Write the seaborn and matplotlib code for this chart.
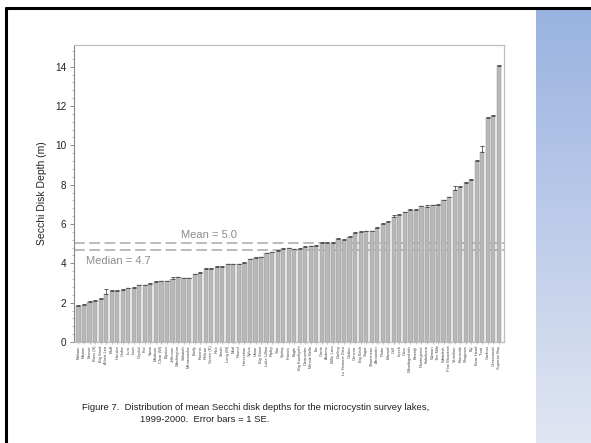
import numpy as np
import pandas as pd
import matplotlib
matplotlib.use("Agg")
import matplotlib.pyplot as plt
from matplotlib.lines import Line2D
from matplotlib.ticker import MultipleLocator, AutoMinorLocator
import seaborn as sns

lakes = [
    "Balsam", "Marion", "Beaver", "Bass (S)", "Big Sand", "Albert Lea", "Bluff", "Hanska",
    "Cedar", "Lura", "Loon", "Crystal", "Fox", "Swan", "Madison", "Clear (W)",
    "Elysian", "Jefferson", "Washington", "Sakatah", "Minnewaska", "Emily", "Koronis", "Pelican",
    "Green (K)", "Rice", "Sarah", "Long (M)", "Mud", "Round", "Horseshoe", "Sylvia",
    "Union", "Big Stone", "Lake Lillian", "Ripley", "Star", "Spring", "Francis", "Eagle",
    "Big Kandiyohi", "Clearwater", "Minnie Belle", "Ida", "Carrie", "Andrew", "Mille Lacs", "Darling",
    "Le Homme Dieu", "Osakis", "Geneva", "Big Birch", "Sugar", "Shamineau", "Alexander", "Platte",
    "Edward", "Gull", "Leech", "Cass", "Winnibigoshish", "Bemidji", "Plantagenet", "Kabekona",
    "Woman", "Ten Mile", "Whitefish", "Pine Mountain", "Vermilion", "Burntside", "Shagawa", "Ely",
    "Bear Head", "Trout", "Caribou", "Greenwood", "Superior Bay",
]
depth = [
    1.83, 1.90, 2.05, 2.10, 2.18, 2.45, 2.60, 2.60, 2.65, 2.74,
    2.77, 2.88, 2.88, 2.95, 3.05, 3.08, 3.08, 3.22, 3.28, 3.24,
    3.24, 3.45, 3.52, 3.70, 3.72, 3.82, 3.82, 3.95, 3.95, 3.95,
    4.03, 4.20, 4.27, 4.30, 4.50, 4.57, 4.64, 4.73, 4.76, 4.72,
    4.75, 4.83, 4.86, 4.88, 5.03, 5.05, 5.05, 5.25, 5.20, 5.35,
    5.55, 5.60, 5.62, 5.62, 5.80, 6.00, 6.10, 6.38, 6.45, 6.60,
    6.70, 6.72, 6.90, 6.87, 6.95, 6.97, 7.20, 7.35, 7.75, 7.88,
    8.10, 8.25, 9.20, 9.65, 11.40, 11.50, 14.05,
]
se = [
    0.03, 0.03, 0.03, 0.03, 0.04, 0.22, 0.04, 0.03, 0.03, 0.03,
    0.03, 0.03, 0.03, 0.03, 0.03, 0.03, 0.03, 0.07, 0.05, 0.03,
    0.03, 0.03, 0.03, 0.08, 0.03, 0.03, 0.03, 0.03, 0.03, 0.03,
    0.03, 0.03, 0.03, 0.03, 0.03, 0.03, 0.03, 0.03, 0.03, 0.03,
    0.03, 0.03, 0.03, 0.03, 0.03, 0.03, 0.03, 0.05, 0.03, 0.03,
    0.03, 0.03, 0.03, 0.03, 0.03, 0.03, 0.03, 0.10, 0.04, 0.03,
    0.08, 0.03, 0.03, 0.10, 0.04, 0.04, 0.04, 0.04, 0.20, 0.04,
    0.04, 0.04, 0.04, 0.30, 0.04, 0.04, 0.04,
]
mean_value = 5.05
median_value = 4.68
mean_label = "Mean = 5.0"
median_label = "Median = 4.7"
ylabel = "Secchi Disk Depth (m)"
caption1 = "Figure 7.  Distribution of mean Secchi disk depths for the microcystin survey lakes,"
caption2 = "1999-2000.  Error bars = 1 SE."

df = pd.DataFrame({"lake": lakes, "depth": depth, "se": se})

sns.set_style("white")
plt.rcParams["font.family"] = ["Liberation Sans", "DejaVu Sans"]

fig = plt.figure(figsize=(5.91, 4.43), dpi=100)
fig.patch.set_facecolor("white")

# blue gradient side panel
gax = fig.add_axes([536 / 591, 0, 55 / 591, 1 - 9 / 443])
grad = np.linspace(0, 1, 256).reshape(-1, 1)
top = np.array([0.60, 0.70, 0.88])
bot = np.array([0.88, 0.90, 0.95])
img = top[None, None, :] * (1 - grad[:, :, None]) + bot[None, None, :] * grad[:, :, None]
gax.imshow(img, aspect="auto", extent=[0, 1, 0, 1])
gax.set_axis_off()

# slide border lines
fig.add_artist(Line2D([6 / 591, 1], [1 - 7.5 / 443] * 2, color="black", lw=2.2))
fig.add_artist(Line2D([6 / 591] * 2, [0, 1 - 7.5 / 443], color="black", lw=2.2))

ax = fig.add_axes([73.5 / 591, 1 - 342 / 443, (504 - 73.5) / 591, (342 - 45) / 443])

ax.axhline(mean_value, color="#a8a8a8", lw=1.1, ls=(0, (7, 3)), zorder=0.5)
ax.axhline(median_value, color="#a8a8a8", lw=1.1, ls=(0, (7, 3)), zorder=0.5)

sns.barplot(data=df, x="lake", y="depth", color="#b8b8b8", saturation=1,
            width=0.76, errorbar=None, edgecolor="#9a9a9a", linewidth=0.35,
            ax=ax, zorder=2)
ax.errorbar(np.arange(len(df)), df["depth"], yerr=[np.zeros(len(df)), df["se"]],
            fmt="none", ecolor="#555555", elinewidth=0.6, capsize=1.6,
            capthick=0.7, zorder=3)

ax.set_xlim(-0.9, len(df) - 1 + 0.92)
ax.set_ylim(0, 15.1)
ax.yaxis.set_major_locator(MultipleLocator(2))
ax.yaxis.set_minor_locator(AutoMinorLocator(5))
ax.tick_params(axis="y", which="major", direction="out", length=3, width=0.6,
               color="#777777", labelsize=7.2, labelcolor="#222222", pad=2, left=True)
ax.tick_params(axis="y", which="minor", direction="out", length=1.5, width=0.5,
               color="#999999", left=True)
ax.tick_params(axis="x", direction="out", length=1.5, width=0.4, color="#888888",
               labelsize=2.9, labelcolor="#444444", pad=1, bottom=True)
plt.setp(ax.get_xticklabels(), rotation=90)
ax.set_xlabel("")
ax.set_ylabel(ylabel, fontsize=7.5, color="#222222", labelpad=6)

for side in ["top", "right", "bottom"]:
    ax.spines[side].set_color("#bdbdbd")
    ax.spines[side].set_linewidth(0.9)
ax.spines["left"].set_color("#888888")
ax.spines["left"].set_linewidth(0.8)

ax.text(23.5, 5.45, mean_label, color="#8c8c8c", fontsize=8, ha="center", va="center")
ax.text(1.3, 4.1, median_label, color="#8c8c8c", fontsize=8, ha="left", va="center")

fig.text(82 / 591, 1 - 407 / 443, caption1, fontsize=6.8, color="#222222",
         ha="left", va="center")
fig.text(139.5 / 591, 1 - 419 / 443, caption2, fontsize=6.8, color="#222222",
         ha="left", va="center")

fig.savefig("out.png", dpi=100)
